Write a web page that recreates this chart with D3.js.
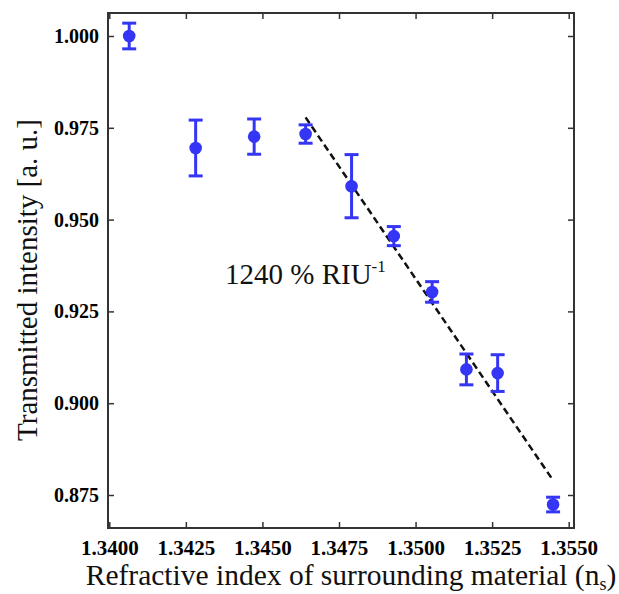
<!DOCTYPE html>
<html><head><meta charset="utf-8">
<script src="https://cdn.jsdelivr.net/npm/d3@7"></script>
<style>body{margin:0;background:#fff}svg{display:block}
svg text{font-family:"Liberation Serif","Times New Roman",Times,"DejaVu Serif",serif}</style>
</head><body>
<svg id="c" width="619" height="594"></svg>
<script>
const refractiveIndex = [1.34065, 1.34282, 1.34473, 1.34641, 1.34791, 1.34929, 1.35054, 1.35166, 1.35268, 1.35449];
const intensity      = [1.0000, 0.9695, 0.9726, 0.9733, 0.9591, 0.9455, 0.9303, 0.9092, 0.9082, 0.8724];
const errorBar       = [0.0035, 0.0076, 0.0048, 0.0025, 0.0086, 0.0026, 0.0028, 0.0042, 0.0050, 0.0020];
const fitX = [1.34641, 1.35447];
const fitY = [0.97783, 0.87923];
const xTicks = [1.3400, 1.3425, 1.3450, 1.3475, 1.3500, 1.3525, 1.3550];
const yTicks = [0.875, 0.900, 0.925, 0.950, 0.975, 1.000];

const svg = d3.select("#c");
const L = 108, T = 13, R = 574, B = 528;
const x = d3.scaleLinear().domain([1.339958, 1.355173]).range([L, R]);
const y = d3.scaleLinear().domain([0.866013, 1.006264]).range([B, T]);
const frame = "#333";
const blue = "#3535f5";
const serif = '"Liberation Serif","Times New Roman",Times,"DejaVu Serif",serif';

const tl = 6;
const gx = svg.append("g").attr("transform", `translate(0,${B})`)
  .call(d3.axisBottom(x).tickValues(xTicks).tickSize(-tl).tickPadding(12).tickFormat(d3.format(".4f")))
  .call(g => g.select(".domain").remove());
svg.append("g").attr("transform", `translate(0,${T})`)
  .call(d3.axisTop(x).tickValues(xTicks).tickSize(-tl).tickFormat(""))
  .call(g => g.select(".domain").remove());
svg.append("g").attr("transform", `translate(${L},0)`)
  .call(d3.axisLeft(y).tickValues(yTicks).tickSize(-tl).tickPadding(9).tickFormat(d3.format(".3f")))
  .call(g => g.select(".domain").remove());
svg.append("g").attr("transform", `translate(${R},0)`)
  .call(d3.axisRight(y).tickValues(yTicks).tickSize(-tl).tickFormat(""))
  .call(g => g.select(".domain").remove());
svg.selectAll("g").attr("font-family", serif);
svg.selectAll(".tick line").attr("stroke", frame).attr("stroke-width", 1.5);
svg.selectAll(".tick text").attr("font-weight", "bold").attr("font-size", 20).attr("fill", "#000");
gx.selectAll(".tick text").attr("font-size", 21);

svg.append("rect").attr("x", L).attr("y", T).attr("width", R - L).attr("height", B - T)
  .attr("fill", "none").attr("stroke", frame).attr("stroke-width", 2);

svg.append("line")
  .attr("x1", x(fitX[0])).attr("y1", y(fitY[0])).attr("x2", x(fitX[1])).attr("y2", y(fitY[1]))
  .attr("stroke", "#111").attr("stroke-width", 2.5).attr("stroke-dasharray", "7,4");

const data = refractiveIndex.map((v, i) => ({x: v, y: intensity[i], e: errorBar[i]}));
const eb = svg.append("g").attr("stroke", blue).attr("stroke-width", 3);
const cw = 7;
data.forEach(d => {
  const cx = x(d.x), y1 = y(d.y + d.e), y2 = y(d.y - d.e);
  eb.append("line").attr("x1", cx).attr("x2", cx).attr("y1", y1).attr("y2", y2);
  eb.append("line").attr("x1", cx - cw).attr("x2", cx + cw).attr("y1", y1).attr("y2", y1);
  eb.append("line").attr("x1", cx - cw).attr("x2", cx + cw).attr("y1", y2).attr("y2", y2);
});
svg.append("g").selectAll("circle").data(data).join("circle")
  .attr("cx", d => x(d.x)).attr("cy", d => y(d.y)).attr("r", 6.3).attr("fill", blue);

const ann = svg.append("text").attr("x", 225).attr("y", 284)
  .attr("font-family", serif).attr("font-size", 29).attr("fill", "#111");
ann.append("tspan").text("1240 % RIU");
ann.append("tspan").attr("font-size", 17).attr("dy", -12).text("-1");

const xt = svg.append("text").attr("x", 351).attr("y", 585).attr("text-anchor", "middle")
  .attr("font-family", serif).attr("font-size", 29.5).attr("fill", "#111");
xt.append("tspan").text("Refractive index of surrounding material (n");
xt.append("tspan").attr("font-size", 18).attr("dy", 5).text("s");
xt.append("tspan").attr("dy", -5).text(")");

svg.append("text").attr("transform", `translate(37,280) rotate(-90)`)
  .attr("text-anchor", "middle").attr("font-family", serif).attr("font-size", 29)
  .attr("fill", "#111").text("Transmitted intensity [a. u.]");
</script>
</body></html>
